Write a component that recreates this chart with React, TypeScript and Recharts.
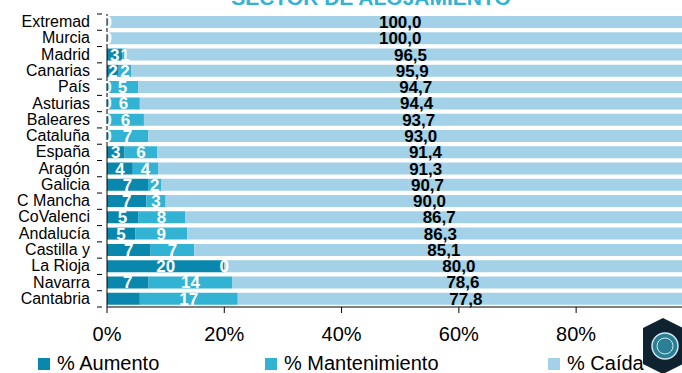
import React from 'react';
import { BarChart, Bar, XAxis, YAxis, LabelList } from 'recharts';

const comunidades = [
  'Extremad', 'Murcia', 'Madrid', 'Canarias', 'País', 'Asturias', 'Baleares', 'Cataluña', 'España',
  'Aragón', 'Galicia', 'C Mancha', 'CoValenci', 'Andalucía', 'Castilla y', 'La Rioja', 'Navarra', 'Cantabria',
];
const aumento = [0, 0, 2.6, 2.0, 0, 0, 0, 0, 3.0, 4.4, 7.0, 6.7, 5.3, 4.8, 7.45, 20.0, 7.1, 5.6];
const mantenimiento = [0, 0, 0.9, 2.1, 5.3, 5.6, 6.3, 7.0, 5.6, 4.3, 2.3, 3.3, 8.0, 8.9, 7.45, 0, 14.3, 16.7];
const caida = [100.0, 100.0, 96.5, 95.9, 94.7, 94.4, 93.7, 93.0, 91.4, 91.3, 90.7, 90.0, 86.7, 86.3, 85.1, 80.0, 78.6, 77.8];
const sinEtiquetaAumento = ['Cantabria'];
const xTicks = [0, 20, 40, 60, 80, 100];

const C_AUM = '#0a87ad';
const C_MAN = '#33b3d4';
const C_CAI = '#a3d2e8';
const FONT = 'Arial, "Liberation Sans", sans-serif';

const data = comunidades.map((c, i) => ({
  name: c,
  aumento: aumento[i],
  mantenimiento: mantenimiento[i],
  caida: caida[i],
}));

const PLOT_TOP = 14;
const PLOT_BOTTOM = 307;
const BAND = (PLOT_BOTTOM - PLOT_TOP) / comunidades.length;

const CatTick = (props: any) => {
  const { x, y, payload, index } = props;
  const ax = x + 12;
  return (
    <g>
      <text x={x} y={y} dy={5} textAnchor="end" fontSize={16} fontFamily={FONT} fill="#000">
        {payload.value}
      </text>
      <line x1={ax - 5} x2={ax} y1={y - BAND / 2} y2={y - BAND / 2} stroke="#000" />
      {index === comunidades.length - 1 && (
        <line x1={ax - 5} x2={ax} y1={y + BAND / 2} y2={y + BAND / 2} stroke="#000" />
      )}
    </g>
  );
};

// all three labels drawn from the caída segment geometry (zero-width bars are not rendered)
const etiquetas = (props: any) => {
  const { x, y, width, height, value } = props;
  const i = comunidades.indexOf(value);
  if (i < 0) return null;
  const pxPorPct = width / caida[i];
  const x0 = x - (aumento[i] + mantenimiento[i]) * pxPorPct;
  const cy = y + height / 2;
  const cAum = x0 + (aumento[i] * pxPorPct) / 2;
  const cMan = x0 + (aumento[i] + mantenimiento[i] / 2) * pxPorPct;
  const blanco = { textAnchor: 'middle' as const, fontSize: 17, fontWeight: 'bold', fontFamily: FONT, fill: '#fff' };
  return (
    <g>
      {!sinEtiquetaAumento.includes(value) && (
        <text x={cAum} y={cy} dy={6} {...blanco}>{Math.round(aumento[i])}</text>
      )}
      <text x={cMan} y={cy} dy={6} {...blanco}>{Math.round(mantenimiento[i])}</text>
      <text x={x + width / 2} y={cy} dy={6} textAnchor="middle" fontSize={17} fontWeight="bold"
        fontFamily={FONT} fill="#000">
        {caida[i].toFixed(1).replace('.', ',')}
      </text>
    </g>
  );
};

const leyenda = [
  { label: '% Aumento', color: C_AUM, x: 38 },
  { label: '% Mantenimiento', color: C_MAN, x: 265 },
  { label: '% Caída', color: C_CAI, x: 548 },
];

export default function App() {
  return (
    <div style={{ position: 'absolute', left: 0, top: 0, width: 682, height: 373, overflow: 'hidden', background: '#fff' }}>
      <BarChart
        width={700}
        height={373}
        data={data}
        layout="vertical"
        barCategoryGap={2}
        margin={{ top: PLOT_TOP, right: 6, bottom: 36, left: 0 }}
      >
        <XAxis
          type="number"
          domain={[0, 100]}
          ticks={xTicks}
          tickFormatter={(v) => (v === 100 ? '' : `${v}%`)}
          height={30}
          tickSize={6}
          tickMargin={14}
          stroke="#000"
          tick={{ fill: '#000', fontSize: 20, fontFamily: FONT }}
          interval={0}
        />
        <YAxis
          type="category"
          dataKey="name"
          width={107}
          stroke="#000"
          tickLine={false}
          tickSize={5}
          tickMargin={12}
          interval={0}
          tick={<CatTick />}
        />
        <Bar dataKey="aumento" stackId="a" fill={C_AUM} isAnimationActive={false} />
        <Bar dataKey="mantenimiento" stackId="a" fill={C_MAN} isAnimationActive={false} />
        <Bar dataKey="caida" stackId="a" fill={C_CAI} isAnimationActive={false}>
          <LabelList dataKey="name" content={etiquetas} />
        </Bar>
      </BarChart>
      <div style={{ position: 'absolute', left: 0, top: -14, width: 742, textAlign: 'center', fontFamily: FONT,
        fontSize: 21, fontWeight: 'bold', color: C_MAN, lineHeight: '23px', zIndex: 2 }}>
        SECTOR DE ALOJAMIENTO
      </div>
      {leyenda.map((l) => (
        <div key={l.label} style={{ position: 'absolute', left: l.x, top: 352, display: 'flex', alignItems: 'center',
          fontFamily: FONT, fontSize: 20, lineHeight: '23px', color: '#000', whiteSpace: 'nowrap' }}>
          <span style={{ display: 'inline-block', width: 12, height: 12, background: l.color, marginRight: 7 }} />
          {l.label}
        </div>
      ))}
      <svg width={46} height={56} style={{ position: 'absolute', left: 643, top: 318 }}>
        <polygon points="20,0 40,10 40,46 20,56 0,46 0,10" fill="#0f2230" />
        <circle cx={22} cy={28} r={13} fill="#2a7f95" stroke="#cfe6ee" strokeWidth={1.5} />
        <circle cx={22} cy={28} r={8} fill="none" stroke="#cfe6ee" strokeWidth={1} />
      </svg>
    </div>
  );
}
